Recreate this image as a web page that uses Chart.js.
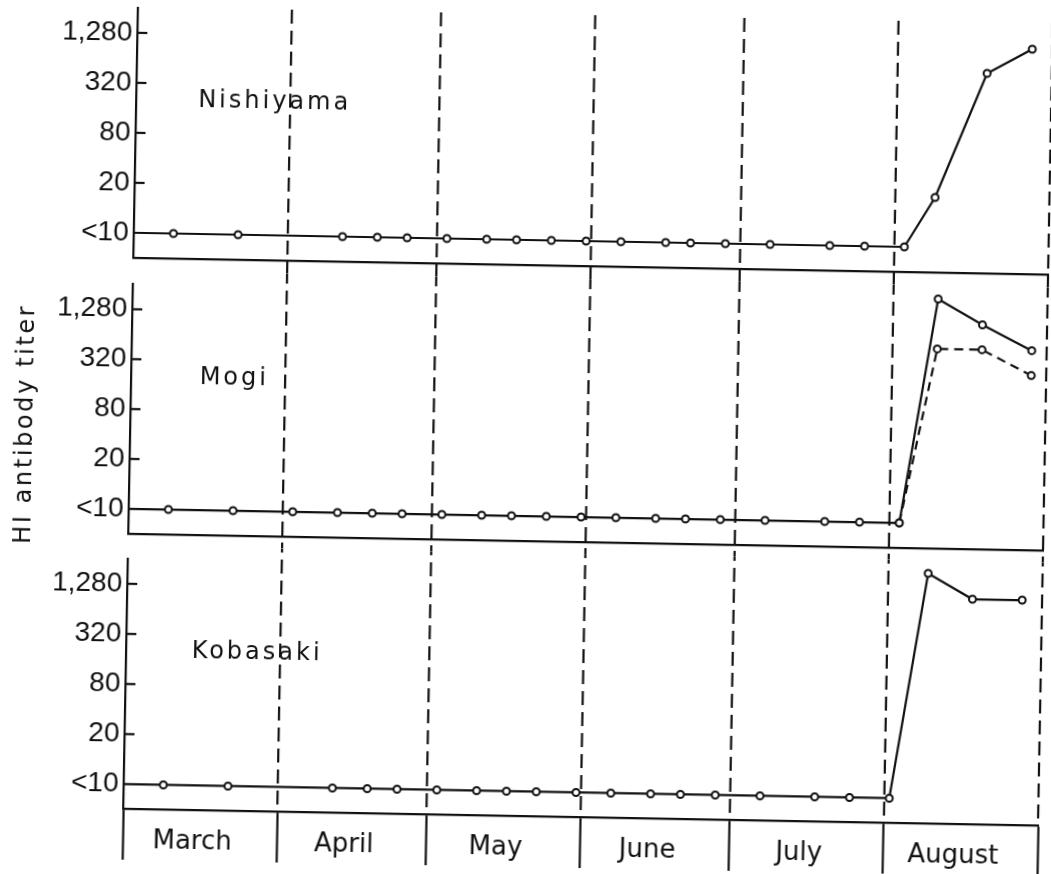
<!DOCTYPE html>
<html>
<head>
<meta charset="utf-8">
<title>HI antibody titer</title>
<script src="https://cdn.jsdelivr.net/npm/chart.js@4"></script>
<style>
  html, body { margin: 0; padding: 0; background: #fff; overflow: hidden; }
  #figure {
    position: relative; width: 1051px; height: 874px; background: #fff;
    transform: rotate(1.05deg); transform-origin: 525.5px 437px;
  }
  #figure canvas { position: absolute; left: 0; }
  #ytitle {
    position: absolute; left: 24px; top: 433px;
    transform: translate(-50%, -50%) rotate(-90deg);
    font: 24px "DejaVu Sans", sans-serif; letter-spacing: 2.6px;
    white-space: nowrap; color: #111;
  }
</style>
</head>
<body>
<div id="figure">
  <canvas id="panel1" width="1051" height="278" style="top:0"></canvas>
  <canvas id="panel2" width="1051" height="275" style="top:278px"></canvas>
  <canvas id="panel3" width="1051" height="321" style="top:553px"></canvas>
  <div id="ytitle">HI antibody titer</div>
</div>
<script>
// "<10" is plotted one twofold dilution below 10
const LT10 = 5;

const months = ['March', 'April', 'May', 'June', 'July', 'August'];
const monthLengths = [31, 30, 31, 30, 31, 31];
const titerTicks = [LT10, 20, 80, 320, 1280];
const titerTickLabels = ['<10', '20', '80', '320', '1,280'];
const sites = ['Nishiyama', 'Mogi', 'Kobasaki'];

// sampling dates (month/day) and HI titers
const nishiyamaDates = ['3/9', '3/22', '4/12', '4/19', '4/25', '5/3', '5/11', '5/17', '5/24', '5/31',
  '6/7', '6/16', '6/21', '6/28', '7/7', '7/19', '7/26', '8/3', '8/9', '8/19', '8/28'];
const nishiyamaTiters = [LT10, LT10, LT10, LT10, LT10, LT10, LT10, LT10, LT10, LT10,
  LT10, LT10, LT10, LT10, LT10, LT10, LT10, LT10, 20, 640, 1280];

const mogiDates = ['3/9', '3/22', '4/3', '4/12', '4/19', '4/25', '5/3', '5/11', '5/17', '5/24', '5/31',
  '6/7', '6/15', '6/21', '6/28', '7/7', '7/19', '7/26', '8/3', '8/10', '8/19', '8/29'];
const mogiTiters = [LT10, LT10, LT10, LT10, LT10, LT10, LT10, LT10, LT10, LT10, LT10,
  LT10, LT10, LT10, LT10, LT10, LT10, LT10, LT10, 2560, 1280, 640];
const mogiDates2 = ['8/3', '8/10', '8/19', '8/29'];
const mogiTiters2 = [LT10, 640, 640, 320];

const kobasakiDates = ['3/9', '3/22', '4/12', '4/19', '4/25', '5/3', '5/11', '5/17', '5/23', '5/31',
  '6/7', '6/15', '6/21', '6/28', '7/7', '7/18', '7/25', '8/2', '8/9', '8/18', '8/28'];
const kobasakiTiters = [LT10, LT10, LT10, LT10, LT10, LT10, LT10, LT10, LT10, LT10,
  LT10, LT10, LT10, LT10, LT10, LT10, LT10, LT10, 2560, 1280, 1280];

const INK = '#111';

// day offsets from 1 March
const monthStarts = monthLengths.reduce((acc, n) => { acc.push(acc[acc.length - 1] + n); return acc; }, [0]);
const seasonEnd = monthStarts[monthStarts.length - 1];
// month names sit a little left of each month's middle
const monthLabelDays = monthLengths.map((n, i) => monthStarts[i] + n / 2 - 1.5);
function dayOf(s) {
  const [m, d] = s.split('/').map(Number);
  return monthStarts[m - 3] + d - 1;
}
const points = (dates, titers) => dates.map((d, i) => ({ x: dayOf(d), y: titers[i] }));

// dashed month boundaries running through the panels
const monthGuides = {
  id: 'monthGuides',
  beforeDatasetsDraw(chart, args, opts) {
    const { ctx, chartArea, scales: { x } } = chart;
    const y0 = opts.fromArea ? chartArea.top - 1 : 0;
    const y1 = opts.toArea ? chartArea.bottom : chart.height;
    ctx.save();
    ctx.strokeStyle = INK;
    ctx.lineWidth = 2.2;
    ctx.setLineDash([14, 7]);
    ctx.lineDashOffset = opts.phase || 0;
    monthStarts.slice(1).forEach(d => {
      const px = x.getPixelForValue(d);
      ctx.beginPath();
      ctx.moveTo(px, y0);
      ctx.lineTo(px, y1);
      ctx.stroke();
    });
    ctx.restore();
  }
};

// inward tick marks, baseline lead-in and the site name
const panelMarks = {
  id: 'panelMarks',
  beforeDatasetsDraw(chart, args, opts) {
    const { ctx, chartArea, scales: { x, y } } = chart;
    ctx.save();
    ctx.strokeStyle = INK;
    ctx.lineWidth = 2.2;
    titerTicks.forEach(v => {
      if (v === LT10) return;
      const py = y.getPixelForValue(v);
      ctx.beginPath();
      ctx.moveTo(chartArea.left, py);
      ctx.lineTo(chartArea.left + 10, py);
      ctx.stroke();
    });
    const first = chart.getDatasetMeta(0).data[0];
    ctx.beginPath();
    ctx.moveTo(chartArea.left, first.y);
    ctx.lineTo(first.x, first.y);
    ctx.stroke();
    ctx.fillStyle = INK;
    ctx.font = '24px "DejaVu Sans"';
    ctx.letterSpacing = '3px';
    ctx.textAlign = 'left';
    ctx.textBaseline = 'middle';
    ctx.fillText(opts.name, x.getPixelForValue(opts.nameDay), y.getPixelForValue(200));
    ctx.restore();
  }
};

function lineSet(data, dash) {
  return {
    data, borderColor: INK, borderWidth: 2.2, borderDash: dash || [], tension: 0,
    pointRadius: 3.5, pointBorderWidth: 2, pointBackgroundColor: '#fff', pointBorderColor: INK,
    clip: false
  };
}

function yAxis() {
  return {
    type: 'logarithmic', min: 2.5, max: 2560,
    afterBuildTicks: s => { s.ticks = titerTicks.map(v => ({ value: v })); },
    afterFit: s => { s.width = 130; s.paddingTop = 0; s.paddingBottom = 0; },
    ticks: {
      autoSkip: false, padding: 5, color: INK,
      font: { family: '"Liberation Sans", Arial, sans-serif', size: 28, lineHeight: 1 },
      callback: v => titerTickLabels[titerTicks.indexOf(v)] ?? ''
    },
    grid: { display: false, drawTicks: false },
    border: { display: true, color: INK, width: 2.2 }
  };
}

function plainX() {
  return {
    type: 'linear', min: 0, max: seasonEnd,
    afterFit: s => { s.height = 0; s.paddingLeft = 0; s.paddingRight = 0; },
    ticks: { display: false },
    grid: { display: false, drawTicks: false },
    border: { display: true, color: INK, width: 2.2 }
  };
}

const isBoundary = v => monthStarts.includes(v);
const monthAxisTicks = [...monthStarts, ...monthLabelDays].sort((a, b) => a - b);

function monthX() {
  return {
    type: 'linear', min: 0, max: seasonEnd,
    afterBuildTicks: s => { s.ticks = monthAxisTicks.map(v => ({ value: v })); },
    afterFit: s => { s.height = 50.5; s.paddingLeft = 0; s.paddingRight = 0; },
    ticks: {
      autoSkip: false, maxRotation: 0, minRotation: 0, padding: -34, color: INK,
      font: { family: '"DejaVu Sans", sans-serif', size: 26 },
      callback: v => { const i = monthLabelDays.indexOf(v); return i >= 0 ? months[i] : ''; }
    },
    grid: {
      display: true, drawOnChartArea: false, drawTicks: true, tickLength: 50.5, tickWidth: 2.2,
      tickColor: c => (c.tick && isBoundary(c.tick.value)) ? INK : 'rgba(0,0,0,0)'
    },
    border: { display: true, color: INK, width: 2.2 }
  };
}

function makePanel(id, datasets, padding, xScale, guides, name, nameDay) {
  return new Chart(document.getElementById(id), {
    type: 'line',
    data: { datasets },
    plugins: [monthGuides, panelMarks],
    options: {
      responsive: false, animation: false, events: [],
      layout: { padding },
      parsing: false,
      scales: { x: xScale, y: yAxis() },
      plugins: {
        legend: { display: false }, tooltip: { enabled: false }, title: { display: false },
        monthGuides: guides,
        panelMarks: { name, nameDay }
      }
    }
  });
}

makePanel('panel1',
  [lineSet(points(nishiyamaDates, nishiyamaTiters))],
  { top: 15, bottom: 13, left: 0, right: 3 }, plainX(),
  { fromArea: true, toArea: false, phase: 0 }, sites[0], 12.5);

makePanel('panel2',
  [lineSet(points(mogiDates, mogiTiters)), lineSet(points(mogiDates2, mogiTiters2), [9, 6])],
  { top: 13.5, bottom: 12, left: 0, right: 3 }, plainX(),
  { fromArea: false, toArea: false, phase: 4 }, sites[1], 13.8);

makePanel('panel3',
  [lineSet(points(kobasakiDates, kobasakiTiters))],
  { top: 13, bottom: 7, left: 0, right: 3 }, monthX(),
  { fromArea: false, toArea: true, phase: 10 }, sites[2], 13.2);
</script>
</body>
</html>
